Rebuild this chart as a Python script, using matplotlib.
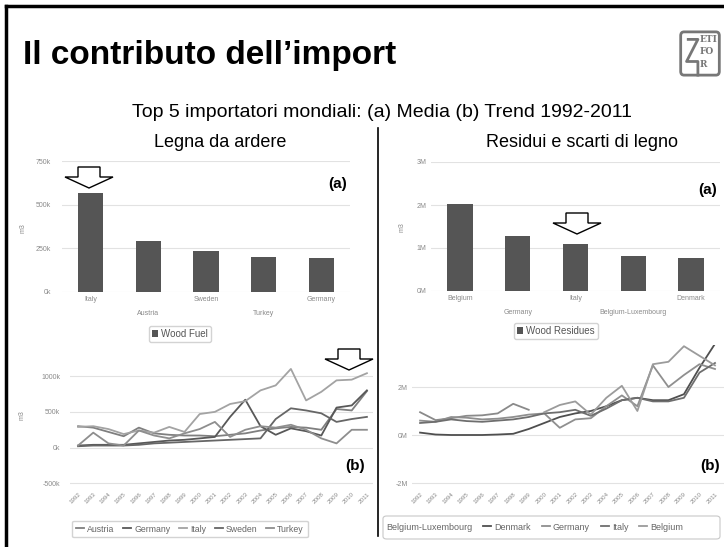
import matplotlib
matplotlib.use("Agg")
import numpy as np
import matplotlib.pyplot as plt
from matplotlib.patches import Polygon, FancyBboxPatch
from matplotlib.lines import Line2D

plt.rcParams['font.family'] = ['Liberation Sans', 'DejaVu Sans']

### Data ###
fuel_countries = ["Italy", "Austria", "Sweden", "Turkey", "Germany"]
fuel_mean = [564, 290, 233, 201, 197]          # k m3
res_countries = ["Belgium", "Germany", "Italy", "Belgium-Luxembourg", "Denmark"]
res_mean = [2.03, 1.29, 1.10, 0.82, 0.76]      # M m3

years = list(range(1992, 2012))
nan = np.nan

# Wood fuel trend (k m3)
fuel_austria = [300, 280, 220, 160, 280, 200, 180, 170, 170, 160, 180, 200, 240, 270, 290, 280, 250, 540, 520, 790]
fuel_germany = [30, 40, 40, 40, 60, 80, 100, 110, 130, 150, 430, 670, 300, 180, 270, 230, 170, 560, 590, 800]
fuel_italy = [290, 300, 260, 190, 240, 210, 290, 220, 470, 500, 610, 650, 800, 870, 1100, 660, 780, 940, 950, 1040]
fuel_sweden = [20, 30, 30, 30, 40, 60, 70, 80, 90, 100, 110, 120, 130, 400, 550, 520, 480, 360, 400, 430]
fuel_turkey = [30, 210, 60, 30, 240, 170, 130, 200, 260, 360, 150, 250, 300, 280, 320, 250, 130, 60, 250, 250]

# Wood residues trend (M m3)
res_blx = [0.95, 0.62, 0.70, 0.80, 0.82, 0.90, 1.30, 1.05, nan, nan, nan, nan, nan, nan, nan, nan, nan, nan, nan, nan]
res_denmark = [0.10, 0.02, 0.0, 0.0, 0.0, 0.02, 0.05, 0.25, 0.50, 0.75, 0.90, 1.00, 1.20, 1.45, 1.55, 1.45, 1.45, 1.70, 2.80, 3.80]
res_germany = [0.60, 0.55, 0.75, 0.72, 0.65, 0.68, 0.75, 0.85, 0.90, 0.30, 0.65, 0.70, 1.20, 1.65, 1.20, 2.90, 2.00, 2.50, 2.95, 2.75]
res_italy = [0.50, 0.55, 0.65, 0.58, 0.55, 0.60, 0.65, 0.75, 0.90, 0.95, 1.05, 0.80, 1.10, 1.45, 1.55, 1.40, 1.40, 1.55, 2.60, 3.00]
res_belgium = [nan, nan, nan, nan, nan, nan, nan, nan, 0.95, 1.25, 1.40, 0.85, 1.55, 2.05, 1.00, 2.95, 3.05, 3.70, 3.30, 2.90]

### Layout helpers (pixel coords, origin top-left) ###
W, H = 724, 547
fig = plt.figure(figsize=(W / 100, H / 100), dpi=100)


def fx(x):
    return x / W


def fy(y):
    return 1 - y / H


def px_axes(x0, y0, x1, y1):
    return fig.add_axes([fx(x0), fy(y1), (x1 - x0) / W, (y1 - y0) / H])


TICK = '#8a8a8a'


def style(ax, yticks, ylabels, pad):
    for s in ax.spines.values():
        s.set_visible(False)
    ax.set_yticks(yticks)
    ax.set_yticklabels(ylabels)
    ax.grid(axis='y', color='#e2e2e2', lw=0.8)
    ax.set_axisbelow(True)
    ax.tick_params(length=0, labelsize=5, labelcolor=TICK, pad=pad)


def down_arrow(xc, ytop):
    pts = [(xc - 11, ytop), (xc + 11, ytop), (xc + 11, ytop + 10), (xc + 24, ytop + 10),
           (xc, ytop + 21), (xc - 24, ytop + 10), (xc - 11, ytop + 10)]
    pts = [(fx(a), fy(b)) for a, b in pts]
    fig.add_artist(Polygon(pts, closed=True, facecolor='white', edgecolor='black',
                           lw=1.0, transform=fig.transFigure, zorder=10))


### Slide frame, title, logo ###
fig.add_artist(Line2D([fx(6), fx(6)], [fy(6), 0], color='black', lw=2.5, transform=fig.transFigure))
fig.add_artist(Line2D([fx(6), 1], [fy(6), fy(6)], color='black', lw=2.5, transform=fig.transFigure))
fig.add_artist(Line2D([fx(378), fx(378)], [fy(128), fy(536)], color='black', lw=1.2, transform=fig.transFigure))

fig.text(fx(23), fy(64), "Il contributo dell\u2019import", weight='bold', size=24, va='baseline')
fig.text(fx(382), fy(117), "Top 5 importatori mondiali: (a) Media (b) Trend 1992-2011",
         size=14, ha='center', va='baseline')
fig.text(fx(220), fy(147), "Legna da ardere", size=13, ha='center', va='baseline')
fig.text(fx(582), fy(147), "Residui e scarti di legno", size=13, ha='center', va='baseline')

lax = px_axes(679, 30, 721, 77)
lax.set_xlim(0, 1)
lax.set_ylim(0, 1)
lax.axis('off')
lax.add_patch(FancyBboxPatch((0.04, 0.04), 0.92, 0.92, boxstyle='round,pad=0,rounding_size=0.08',
                             fill=False, ec='#777777', lw=2))
lax.plot([0.22, 0.45, 0.18, 0.45, 0.45], [0.80, 0.80, 0.33, 0.33, 0.04], color='#777777', lw=2)
for txt, yy in [("ETI", 0.80), ("FO", 0.54), ("R", 0.27)]:
    lax.text(0.50, yy, txt, family='DejaVu Serif', weight='bold', size=6.5, color='#777777', va='center')

### (a) bar charts ###
lab_fuel = [c if i % 2 == 0 else "\n" + c for i, c in enumerate(fuel_countries)]
lab_res = [c if i % 2 == 0 else "\n" + c for i, c in enumerate(res_countries)]

ax1 = px_axes(62, 161, 350, 292)
b1 = ax1.bar(range(5), fuel_mean, width=0.44, color='#555555', label='Wood Fuel')
ax1.set_xlim(-0.5, 4.5)
ax1.set_ylim(0, 750)
style(ax1, [0, 250, 500, 750], ['0k', '250k', '500k', '750k'], 8)
ax1.set_xticks(range(5))
ax1.set_xticklabels(lab_fuel, fontsize=5, color=TICK, linespacing=2.3)
ax1.tick_params(axis='x', pad=3)
fig.text(fx(23), fy(228), "m3", size=5, color=TICK, rotation=90, ha='center', va='center')
fig.text(fx(347), fy(184), "(a)", weight='bold', size=11, ha='right', va='center')
fig.legend(handles=[b1], loc='center', bbox_to_anchor=(fx(180), fy(334)), fontsize=7,
           handlelength=0.6, handleheight=0.8, handletextpad=0.3, borderpad=0.35,
           edgecolor='#c8c8c8', fancybox=True, labelcolor='#555555')

ax2 = px_axes(431, 162, 720, 291)
b2 = ax2.bar(range(5), res_mean, width=0.44, color='#555555', label='Wood Residues')
ax2.set_xlim(-0.5, 4.5)
ax2.set_ylim(0, 3)
style(ax2, [0, 1, 2, 3], ['0M', '1M', '2M', '3M'], 3)
ax2.set_xticks(range(5))
ax2.set_xticklabels(lab_res, fontsize=5, color=TICK, linespacing=2.3)
ax2.tick_params(axis='x', pad=3)
fig.text(fx(402), fy(227), "m3", size=5, color=TICK, rotation=90, ha='center', va='center')
fig.text(fx(717), fy(190), "(a)", weight='bold', size=11, ha='right', va='center')
fig.legend(handles=[b2], loc='center', bbox_to_anchor=(fx(556), fy(331)), fontsize=7,
           handlelength=0.6, handleheight=0.8, handletextpad=0.3, borderpad=0.35,
           edgecolor='#c8c8c8', fancybox=True, labelcolor='#555555')

### (b) trend line charts ###
ax3 = px_axes(70, 350, 373, 486)
for vals, name, col in [(fuel_austria, 'Austria', '#7f7f7f'), (fuel_germany, 'Germany', '#585858'),
                        (fuel_italy, 'Italy', '#a3a3a3'), (fuel_sweden, 'Sweden', '#666666'),
                        (fuel_turkey, 'Turkey', '#8e8e8e')]:
    ax3.plot(years, vals, color=col, lw=1.3, label=name)
ax3.set_xlim(1991.47, 2011.4)
ax3.set_ylim(-535, 1364)
style(ax3, [-500, 0, 500, 1000], ['-500k', '0k', '500k', '1000k'], 7)
ax3.set_xticks(years)
ax3.set_xticklabels([str(y) for y in years], rotation=45, ha='right', rotation_mode='anchor',
                    fontsize=4.5, color=TICK)
ax3.tick_params(axis='x', pad=4)
fig.text(fx(22), fy(415), "m3", size=5, color=TICK, rotation=90, ha='center', va='center')
fig.text(fx(365), fy(466), "(b)", weight='bold', size=11, ha='right', va='center')
h3, l3 = ax3.get_legend_handles_labels()
fig.legend(h3, l3, loc='center', bbox_to_anchor=(fx(190), fy(529)), ncol=5, fontsize=6.3,
           handlelength=0.9, handletextpad=0.35, columnspacing=1.0, borderpad=0.45,
           edgecolor='#c8c8c8', fancybox=True, labelcolor='#666666')

ax4 = px_axes(412, 345, 724, 486)
for vals, name, col in [(res_blx, 'Belgium-Luxembourg', '#8a8a8a'), (res_denmark, 'Denmark', '#4f4f4f'),
                        (res_germany, 'Germany', '#8f8f8f'), (res_italy, 'Italy', '#6e6e6e'),
                        (res_belgium, 'Belgium', '#9b9b9b')]:
    ax4.plot(years, vals, color=col, lw=1.3, label=name)
ax4.set_xlim(1991.48, 2011.58)
ax4.set_ylim(-2.125, 3.75)
style(ax4, [-2, 0, 2], ['-2M', '0M', '2M'], 3)
ax4.set_xticks(years)
ax4.set_xticklabels([str(y) for y in years], rotation=45, ha='right', rotation_mode='anchor',
                    fontsize=4.5, color=TICK)
ax4.tick_params(axis='x', pad=4)
fig.text(fx(720), fy(466), "(b)", weight='bold', size=11, ha='right', va='center')
h4, l4 = ax4.get_legend_handles_labels()
h4[0] = Line2D([], [], color='none')
fig.legend(h4, l4, loc='center left', bbox_to_anchor=(fx(370), fy(527)), ncol=5, fontsize=6.5,
           handlelength=0.9, handletextpad=0.35, columnspacing=1.2, borderpad=0,
           frameon=False, labelcolor='#666666')
fig.add_artist(FancyBboxPatch((fx(383), fy(539)), (720 - 383) / W, 23 / H,
                              boxstyle='round,pad=0,rounding_size=0.005', fill=False,
                              ec='#c8c8c8', lw=0.8, transform=fig.transFigure))

### Arrows ###
down_arrow(89, 167)
down_arrow(577, 213)
down_arrow(349, 349)

fig.savefig("out.png", dpi=100)
